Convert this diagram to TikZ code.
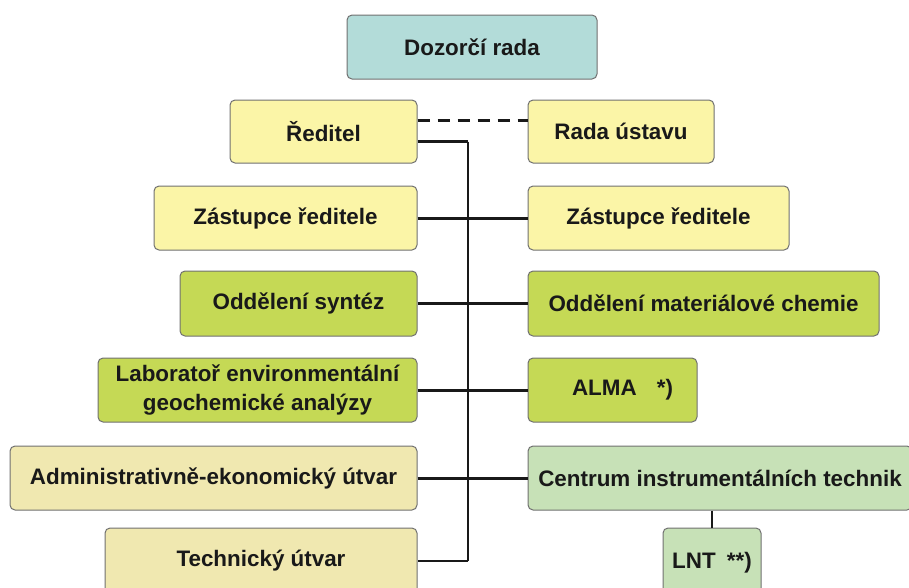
\documentclass[tikz,border=0pt]{standalone}
\usepackage{fontspec}
\setmainfont{Liberation Sans}
\definecolor{cteal}{HTML}{B3DCD9}
\definecolor{cyel}{HTML}{FBF5A7}
\definecolor{cgreen}{HTML}{C5D955}
\definecolor{ckhaki}{HTML}{F0E8B0}
\definecolor{clgreen}{HTML}{C7E1B7}
\definecolor{cborder}{HTML}{707070}
\tikzset{
  box/.style={draw=cborder, line width=1pt, rounded corners=5pt, align=center,
    font=\fontsize{22.4}{29}\selectfont\bfseries, text=black!90, inner sep=0pt},
  conn/.style={line width=3pt, black!90},
  vconn/.style={line width=2pt, black!90},
}
\begin{document}
\begin{tikzpicture}[x=1pt,y=-1pt]
\useasboundingbox (0,0) rectangle (909,587);
\clip (0,0) rectangle (909,587);
\node[box, fill=cteal, minimum width=250pt, minimum height=64pt] (dr) at (472,47) {Dozorčí rada};
\node[box, fill=cyel, minimum width=187pt, minimum height=63pt] (red) at (323.5,131.5) {Ředitel};
\node[box, fill=cyel, minimum width=186pt, minimum height=63pt] (rada) at (621,131.5) {Rada ústavu};
\node[box, fill=cyel, minimum width=263pt, minimum height=64pt] (zl) at (285.5,218) {Zástupce ředitele};
\node[box, fill=cyel, minimum width=261pt, minimum height=64pt] (zr) at (658.5,218) {Zástupce ředitele};
\node[box, fill=cgreen, minimum width=237pt, minimum height=65pt] (os) at (298.5,303.5) {Oddělení syntéz};
\node[box, fill=cgreen, minimum width=351pt, minimum height=65pt] (om) at (703.5,303.5) {Oddělení materiálové chemie};
\node[box, fill=cgreen, minimum width=319pt, minimum height=64pt] (lab) at (257.5,390) {Laboratoř environmentální\\geochemické analýzy};
\node[box, fill=cgreen, minimum width=169pt, minimum height=64pt] (alma) at (612.5,390) {\hspace{0.9em}ALMA\hspace{0.9em}*)};
\node[box, fill=ckhaki, minimum width=407pt, minimum height=64pt] (adm) at (213.5,478) {Administrativně-ekonomický útvar};
\node[box, fill=clgreen, minimum width=384pt, minimum height=64pt] (cit) at (720,478) {Centrum instrumentálních technik};
\node[box, fill=ckhaki, minimum width=312pt, minimum height=66pt] (tech) at (261,561) {Technický útvar};
\node[box, fill=clgreen, minimum width=98pt, minimum height=70pt] (lnt) at (712,563) {LNT\hspace{0.5em}**)};
\coordinate (vtop) at (468,141.5);
\coordinate (vbot) at (468,561);
\draw[conn, dash pattern=on 12pt off 8pt] (red.east |- 0,120) -- (rada.west |- 0,120);
\draw[conn, line width=2.5pt] (red.east |- vtop) -- (vtop);
\draw[vconn] (vtop) -- (vbot);
\draw[conn, line width=2.5pt] (vbot) -- (tech.east |- vbot);
\draw[conn] (zl.east) -- (zr.west);
\draw[conn] (os.east) -- (om.west);
\draw[conn] (lab.east) -- (alma.west);
\draw[conn] (adm.east) -- (cit.west);
\draw[vconn] (cit.south -| lnt.north) -- (lnt.north);
\end{tikzpicture}
\end{document}
